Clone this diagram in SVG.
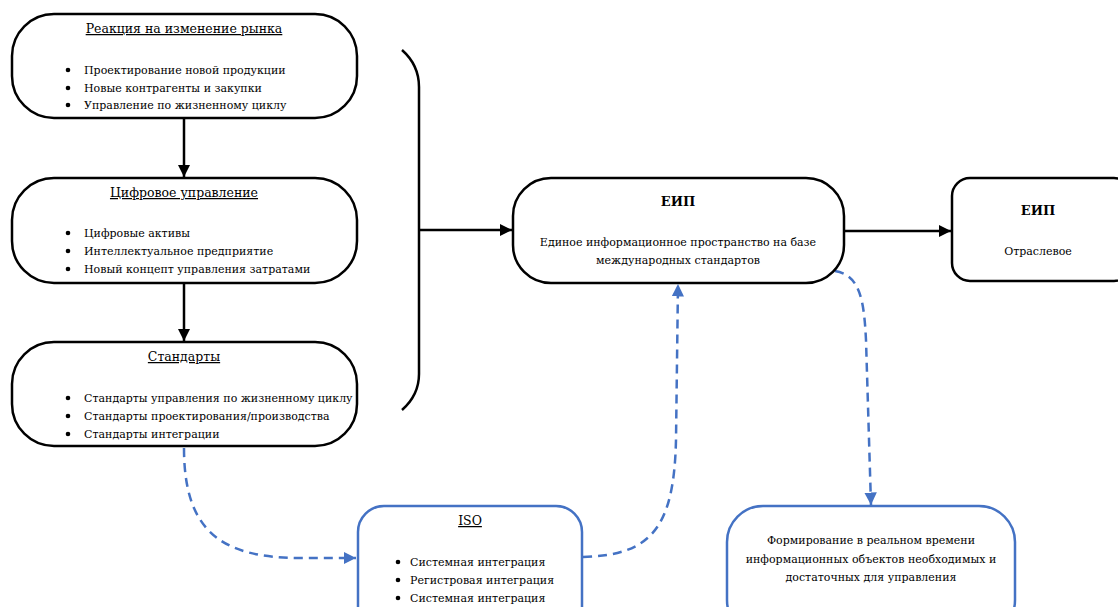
<svg xmlns="http://www.w3.org/2000/svg" width="1118" height="607" viewBox="0 0 1118 607">
<defs>
<style>
.box{fill:#fff;stroke:#000;stroke-width:2.5}
.bbox{fill:#fff;stroke:#4472c4;stroke-width:2.5}
.t{font-size:11px;fill:#000}
.h{font-size:12.5px;fill:#000;text-anchor:middle;text-decoration:underline}
.hb{font-size:13px;font-weight:bold;fill:#000;text-anchor:middle}
.c{text-anchor:middle}
.line{fill:none;stroke:#000;stroke-width:2.5}
.dash{fill:none;stroke:#4472c4;stroke-width:2.5;stroke-dasharray:9 6}
</style>
<marker id="ab" viewBox="0 0 10 10" refX="10" refY="5" markerWidth="5" markerHeight="5" orient="auto" markerUnits="strokeWidth"><path d="M0,0 L10,5 L0,10 z" fill="#000"/></marker>
<marker id="ablue" viewBox="0 0 10 10" refX="10" refY="5" markerWidth="5" markerHeight="5" orient="auto" markerUnits="strokeWidth"><path d="M0,0 L10,5 L0,10 z" fill="#4472c4"/></marker>
</defs>
<rect width="1118" height="607" fill="#fff"/>

<g id="connectors">
<line class="line" x1="184" y1="118" x2="184" y2="177" marker-end="url(#ab)"/>
<line class="line" x1="184" y1="283" x2="184" y2="341" marker-end="url(#ab)"/>
<path class="line" d="M402,50 Q419,65 419,87 L419,374 Q419,395 402,410"/>
<line class="line" x1="419" y1="230" x2="512" y2="230" marker-end="url(#ab)"/>
<line class="line" x1="844" y1="231" x2="951" y2="231" marker-end="url(#ab)"/>
<path class="dash" d="M184,448 C184,530 220,558 300,558 L356,558" marker-end="url(#ablue)"/>
<path class="dash" d="M583,557 C650,555 674,530 676,440 L678,284" marker-end="url(#ablue)"/>
<path class="dash" d="M835,271 C860,275 864,300 866,340 L871,505" marker-end="url(#ablue)"/>
</g>

<g font-family="DejaVu Serif, serif">
<g id="node-market">
<rect class="box" x="12" y="14" width="345" height="104" rx="42"/>
<text class="h" x="184" y="33">Реакция на изменение рынка</text>
<circle cx="68" cy="70" r="2.3"/><circle cx="68" cy="88" r="2.3"/><circle cx="68" cy="105" r="2.3"/>
<text class="t" x="84" y="74">Проектирование новой продукции</text>
<text class="t" x="84" y="92">Новые контрагенты и закупки</text>
<text class="t" x="84" y="109">Управление по жизненному циклу</text>
</g>

<g id="node-digital">
<rect class="box" x="12" y="178" width="345" height="105" rx="42"/>
<text class="h" x="184" y="197">Цифровое управление</text>
<circle cx="68" cy="233" r="2.3"/><circle cx="68" cy="251" r="2.3"/><circle cx="68" cy="269" r="2.3"/>
<text class="t" x="84" y="237">Цифровые активы</text>
<text class="t" x="84" y="255">Интеллектуальное предприятие</text>
<text class="t" x="84" y="273">Новый концепт управления затратами</text>
</g>

<g id="node-standards">
<rect class="box" x="12" y="342" width="345" height="104" rx="42"/>
<text class="h" x="184" y="361">Стандарты</text>
<circle cx="68" cy="398" r="2.3"/><circle cx="68" cy="416" r="2.3"/><circle cx="68" cy="434" r="2.3"/>
<text class="t" x="84" y="402">Стандарты управления по жизненному циклу</text>
<text class="t" x="84" y="420">Стандарты проектирования/производства</text>
<text class="t" x="84" y="438">Стандарты интеграции</text>
</g>

<g id="node-eip">
<rect class="box" x="513" y="178" width="331" height="105" rx="38"/>
<text class="hb" x="678" y="206">ЕИП</text>
<text class="t c" x="678" y="246">Единое информационное пространство на базе</text>
<text class="t c" x="678" y="264">международных стандартов</text>
</g>

<g id="node-eip-sector">
<rect class="box" x="952" y="178" width="180" height="103" rx="18"/>
<text class="hb" x="1038" y="215">ЕИП</text>
<text class="t c" x="1038" y="255">Отраслевое</text>
</g>

<g id="node-iso">
<rect class="bbox" x="358" y="506" width="224" height="130" rx="26"/>
<text class="h" x="470" y="525">ISO</text>
<circle cx="398" cy="562" r="2.3"/><circle cx="398" cy="580" r="2.3"/><circle cx="398" cy="598" r="2.3"/>
<text class="t" x="410" y="566">Системная интеграция</text>
<text class="t" x="410" y="584">Регистровая интеграция</text>
<text class="t" x="410" y="602">Системная интеграция</text>
</g>

<g id="node-forming">
<rect class="bbox" x="727" y="506" width="288" height="130" rx="36"/>
<text class="t c" x="871" y="544">Формирование в реальном времени</text>
<text class="t c" x="871" y="563">информационных объектов необходимых и</text>
<text class="t c" x="871" y="581">достаточных для управления</text>
</g>
</g>
</svg>
